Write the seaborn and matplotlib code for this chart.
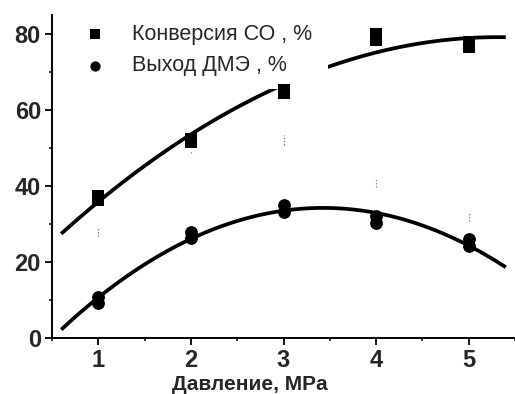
import numpy as np
import pandas as pd
import matplotlib
matplotlib.use("Agg")
import matplotlib.pyplot as plt
from matplotlib.ticker import MultipleLocator
from matplotlib.patches import Rectangle
import seaborn as sns

# Pressure values (MPa) with two replicate measurements at each point
pressure = [1, 1, 2, 2, 3, 3, 4, 4, 5, 5]
co_conversion = [37.5, 36.4, 52.5, 51.5, 65.2, 64.4, 80.1, 78.4, 77.9, 76.5]
dme_yield = [10.9, 9.2, 27.9, 26.2, 35.1, 33.1, 32.1, 30.2, 26.1, 24.1]

# Faint dotted spread marks
spread_x = [1, 2, 3, 4, 5]
spread_y = [28.0, 49.0, 52.2, 41.0, 32.0]
spread_err = [1.2, 0.4, 1.3, 1.2, 1.2]

x_ticks = [1, 2, 3, 4, 5]
y_ticks = [0, 20, 40, 60, 80]

label_conv = "Конверсия СО , %"
label_dme = "Выход ДМЭ , %"
x_label = "Давление, MPa"

df = pd.DataFrame({"p": pressure, "conv": co_conversion, "dme": dme_yield})

sns.set_style("ticks")
plt.rcParams["font.family"] = ["Liberation Sans", "DejaVu Sans"]

W, H = 515, 394
fig = plt.figure(figsize=(W / 100, H / 100), dpi=100)
ax = fig.add_axes([52 / W, 1 - 338 / H, 1 - 52 / W, 323 / H])

# Quadratic trend lines over the pressure span 0.6-5.4
ax.set_xlim(0.6, 5.4)
for col in ["conv", "dme"]:
    sns.regplot(data=df, x="p", y=col, order=2, ci=None, scatter=False,
                truncate=False, ax=ax,
                line_kws=dict(color="black", lw=2.7, solid_capstyle="butt",
                              zorder=2))

eb = ax.errorbar(spread_x, spread_y, yerr=spread_err, fmt="none",
                 ecolor="0.45", elinewidth=0.9, capsize=0)
for lc in eb[2]:
    lc.set_linestyle((0, (1, 1.5)))

sns.scatterplot(data=df, x="p", y="conv", marker="s", s=80, color="black",
                edgecolor="black", linewidth=0, label=label_conv, ax=ax, zorder=5)
sns.scatterplot(data=df, x="p", y="dme", marker="o", s=85, color="black",
                edgecolor="black", linewidth=0, label=label_dme, ax=ax, zorder=5)

ax.set_xlim(0.5, 5.5)
ax.set_ylim(0, 85)
ax.set_xticks(x_ticks)
ax.set_yticks(y_ticks)
ax.xaxis.set_minor_locator(MultipleLocator(0.5))
ax.yaxis.set_minor_locator(MultipleLocator(10))
ax.tick_params(which="major", direction="out", length=5, width=1.3,
               labelsize=17, pad=3, color="black")
ax.tick_params(which="minor", direction="out", length=2.5, width=1.1,
               color="black")
for lbl in ax.get_xticklabels() + ax.get_yticklabels():
    lbl.set_fontweight("bold")

for side in ["top", "right"]:
    ax.spines[side].set_visible(False)
for side in ["left", "bottom"]:
    ax.spines[side].set_linewidth(1.4)
    ax.spines[side].set_color("black")

ax.set_ylabel("")
ax.set_xlabel(x_label, fontsize=15, fontweight="bold")
ax.xaxis.set_label_coords(0.428, -0.115)

# White legend backing panel that masks the trend line underneath
ax.add_patch(Rectangle((74 / W, 1 - 89 / H), (328 - 74) / W, (89 - 15) / H,
                       transform=fig.transFigure, facecolor="white",
                       edgecolor="none", zorder=3, clip_on=False))

leg = ax.legend(loc="upper left", bbox_to_anchor=(76 / W, 1 - 15 / H),
                bbox_transform=fig.transFigure, borderaxespad=0,
                fontsize=15.5, frameon=False,
                markerscale=0.8, handlelength=1.0, handletextpad=1.2,
                labelspacing=0.5, borderpad=0.4)
leg.set_zorder(6)

fig.savefig("out.png", dpi=100)
